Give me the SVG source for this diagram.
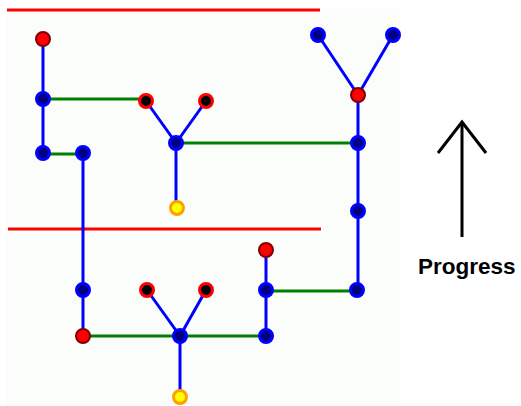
<svg xmlns="http://www.w3.org/2000/svg" width="521" height="406" viewBox="0 0 521 406">
<style>
.b{stroke:#0000ff;stroke-width:3;fill:none}
.g{stroke:#008000;stroke-width:3;fill:none}
.r{stroke:#ff0000;stroke-width:3;fill:none}
.nb{fill:#000080;stroke:#0000ff;stroke-width:3}
.nr{fill:#ff0000;stroke:#800000;stroke-width:2}
.nk{fill:#000000;stroke:#ff0000;stroke-width:3}
.ny{fill:#ffff00;stroke:#ffa000;stroke-width:3}
</style>
<rect width="521" height="406" fill="#ffffff"/>
<rect x="6" y="9" width="394" height="397" fill="#fbfdfb"/>
<g id="limits">
<line class="r" x1="7" y1="10" x2="320" y2="10"/>
<line class="r" x1="8" y1="229" x2="321" y2="229"/>
</g>
<g id="connectors">
<polyline class="b" points="43,39 43,99 43,153"/>
<line class="g" x1="43" y1="99" x2="146" y2="99"/>
<line class="g" x1="43" y1="154" x2="83" y2="154"/>
<polyline class="b" points="83,153 83,290 83,336"/>
<line class="b" x1="146" y1="101" x2="176" y2="143"/>
<line class="b" x1="206" y1="101" x2="176" y2="143"/>
<line class="b" x1="176" y1="143" x2="176" y2="208"/>
<line class="g" x1="176" y1="143" x2="358" y2="143"/>
<line class="b" x1="318" y1="35" x2="358" y2="95"/>
<line class="b" x1="393" y1="35" x2="358" y2="95"/>
<line class="b" x1="358" y1="95" x2="358" y2="291"/>
<line class="g" x1="266" y1="291" x2="358" y2="291"/>
<line class="g" x1="83" y1="336" x2="266" y2="336"/>
<line class="b" x1="147" y1="290" x2="180" y2="336"/>
<line class="b" x1="206" y1="290" x2="180" y2="336"/>
<line class="b" x1="180" y1="336" x2="180" y2="397"/>
<polyline class="b" points="266,250 266,291 266,336"/>
</g>
<g id="n1"><circle class="nr" cx="43" cy="39" r="7"/></g>
<g id="n2"><circle class="nb" cx="43" cy="99" r="6.5"/></g>
<g id="n3"><circle class="nb" cx="43" cy="153" r="6.5"/></g>
<g id="n4"><circle class="nb" cx="83" cy="153" r="6.5"/></g>
<g id="n5"><circle class="nk" cx="146" cy="101" r="6.5"/></g>
<g id="n6"><circle class="nk" cx="206" cy="101" r="6.5"/></g>
<g id="n7"><circle class="nb" cx="176" cy="143" r="6.5"/></g>
<g id="n8"><circle class="ny" cx="177" cy="208" r="6.5"/></g>
<g id="n9"><circle class="nb" cx="318" cy="35" r="6.5"/></g>
<g id="n10"><circle class="nb" cx="393" cy="35" r="6.5"/></g>
<g id="n11"><circle class="nr" cx="358" cy="95" r="7"/></g>
<g id="n12"><circle class="nb" cx="358" cy="143" r="6.5"/></g>
<g id="n13"><circle class="nb" cx="358" cy="211" r="6.5"/></g>
<g id="n14"><circle class="nb" cx="357" cy="290" r="6.5"/></g>
<g id="n15"><circle class="nb" cx="83" cy="290" r="6.5"/></g>
<g id="n16"><circle class="nr" cx="83" cy="336" r="7"/></g>
<g id="n17"><circle class="nk" cx="147" cy="290" r="6.5"/></g>
<g id="n18"><circle class="nk" cx="206" cy="290" r="6.5"/></g>
<g id="n19"><circle class="nb" cx="180" cy="336" r="6.5"/></g>
<g id="n20"><circle class="ny" cx="180" cy="397" r="6.5"/></g>
<g id="n21"><circle class="nr" cx="266" cy="250" r="7"/></g>
<g id="n22"><circle class="nb" cx="266" cy="290" r="6.5"/></g>
<g id="n23"><circle class="nb" cx="266" cy="336" r="6.5"/></g>
<g id="progress">
<line x1="462" y1="123" x2="462" y2="237" stroke="#000" stroke-width="3"/>
<polyline points="438,153 462,122 486,153" fill="none" stroke="#000" stroke-width="3"/>
<text x="418" y="274" font-family="Liberation Sans, Arial, sans-serif" font-weight="bold" font-size="22.5" fill="#000">Progress</text>
</g>
</svg>
